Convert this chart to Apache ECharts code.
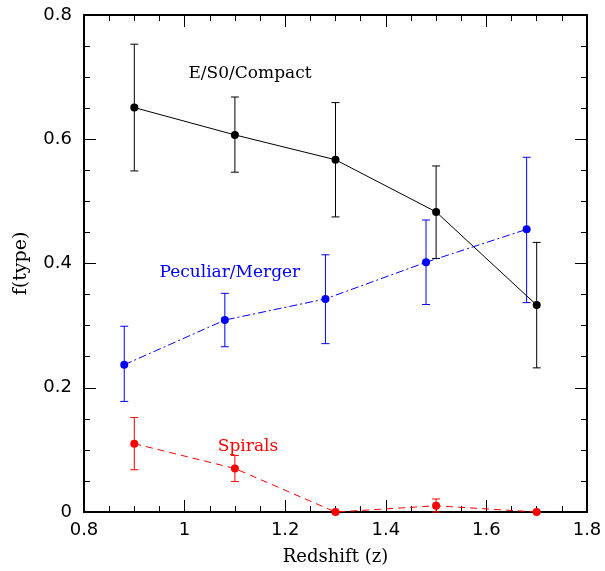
<!DOCTYPE html>
<html><head><meta charset="utf-8">
<script src="https://cdn.jsdelivr.net/npm/echarts@6/dist/echarts.min.js"></script>
<style>html,body{margin:0;padding:0;background:#fff}#c{width:605px;height:571px}</style>
</head><body><div id="c"></div>
<script>
// E/S0/Compact (black)
const esZ = [0.9, 1.1, 1.3, 1.5, 1.7];
const esF = [0.651, 0.607, 0.567, 0.483, 0.333];
const esHi = [0.753, 0.668, 0.659, 0.557, 0.434];
const esLo = [0.549, 0.547, 0.475, 0.408, 0.232];
// Peculiar/Merger (blue)
const pmZ = [0.88, 1.08, 1.28, 1.48, 1.68];
const pmF = [0.237, 0.309, 0.343, 0.402, 0.455];
const pmHi = [0.299, 0.352, 0.414, 0.470, 0.571];
const pmLo = [0.178, 0.266, 0.271, 0.334, 0.337];
// Spirals (red)
const spZ = [0.9, 1.1, 1.3, 1.5, 1.7];
const spF = [0.110, 0.070, 0.0, 0.010, 0.0];
const spHi = [0.152, 0.091, 0.0, 0.021, 0.0];
const spLo = [0.068, 0.049, 0.0, 0.0, 0.0];

const xTicks = [0.8, 1, 1.2, 1.4, 1.6, 1.8];
const yTicks = [0, 0.2, 0.4, 0.6, 0.8];

const serif = 'DejaVu Serif';
const sans = 'DejaVu Sans';

function pts(z, f) { return z.map((v, i) => [v, f[i]]); }
function errs(z, lo, hi) { return z.map((v, i) => [v, lo[i], hi[i]]); }

function errSeries(z, lo, hi, color) {
  return {
    type: 'custom',
    data: errs(z, lo, hi),
    z: 3,
    silent: true,
    renderItem: function (params, api) {
      const x = api.value(0);
      const a = api.coord([x, api.value(1)]);
      const b = api.coord([x, api.value(2)]);
      if (Math.abs(a[1] - b[1]) < 0.5) return null;
      const w = 4;
      const st = { stroke: color, lineWidth: 1 };
      return {
        type: 'group',
        children: [
          { type: 'line', shape: { x1: a[0], y1: a[1], x2: b[0], y2: b[1] }, style: st },
          { type: 'line', shape: { x1: a[0] - w, y1: a[1], x2: a[0] + w, y2: a[1] }, style: st },
          { type: 'line', shape: { x1: b[0] - w, y1: b[1], x2: b[0] + w, y2: b[1] }, style: st }
        ]
      };
    }
  };
}

function lineSeries(z, f, color, dash, label, lx, ly) {
  return {
    type: 'line',
    data: pts(z, f),
    symbol: 'circle',
    symbolSize: 8,
    showSymbol: true,
    z: 4,
    itemStyle: { color: color },
    lineStyle: { color: color, width: 1, type: dash },
    markPoint: {
      symbol: 'circle', symbolSize: 0, silent: true,
      data: [{ coord: [lx, ly], label: { show: true, position: 'inside', formatter: label, color: color, fontFamily: serif, fontSize: 17 } }]
    }
  };
}

const chart = echarts.init(document.getElementById('c'), null, { renderer: 'canvas' });
const axisCommon = {
  type: 'value',
  axisLine: { show: true, onZero: false, lineStyle: { color: '#000', width: 2 } },
  axisTick: { show: true, inside: true, length: 12, lineStyle: { color: '#000', width: 1 } },
  minorTick: { show: true, splitNumber: 4, length: 6, lineStyle: { color: '#000', width: 1 } },
  splitLine: { show: false }
};
chart.setOption({
  animation: false,
  backgroundColor: '#fff',
  grid: { left: 84, right: 18, top: 15, bottom: 52 },
  xAxis: [
    Object.assign({}, axisCommon, {
      min: 0.8, max: 1.8, interval: 0.2, position: 'bottom',
      name: 'Redshift (z)', nameLocation: 'middle', nameGap: 36,
      nameTextStyle: { fontFamily: serif, fontSize: 18, color: '#000' },
      axisLabel: { show: true, margin: 9, fontFamily: sans, fontSize: 18, color: '#000',
        formatter: v => { const t = xTicks.find(k => Math.abs(k - v) < 1e-6); return t === undefined ? '' : String(t); } }
    }),
    Object.assign({}, axisCommon, { min: 0.8, max: 1.8, interval: 0.2, position: 'top', axisLabel: { show: false } })
  ],
  yAxis: [
    Object.assign({}, axisCommon, {
      min: 0, max: 0.8, interval: 0.2, position: 'left',
      name: 'f(type)', nameLocation: 'middle', nameGap: 53,
      nameTextStyle: { fontFamily: serif, fontSize: 19, color: '#000' },
      axisLabel: { show: true, margin: 12, fontFamily: sans, fontSize: 18, color: '#000',
        formatter: v => { const t = yTicks.find(k => Math.abs(k - v) < 1e-6); return t === undefined ? '' : String(t); } }
    }),
    Object.assign({}, axisCommon, { min: 0, max: 0.8, interval: 0.2, position: 'right', axisLabel: { show: false } })
  ],
  series: [
    errSeries(esZ, esLo, esHi, '#000'),
    lineSeries(esZ, esF, '#000', 'solid', 'E/S0/Compact', 1.13, 0.706),
    errSeries(pmZ, pmLo, pmHi, '#0000ff'),
    lineSeries(pmZ, pmF, '#0000ff', [8, 3, 2, 3], 'Peculiar/Merger', 1.09, 0.386),
    errSeries(spZ, spLo, spHi, '#ff0000'),
    lineSeries(spZ, spF, '#ff0000', [7, 5], 'Spirals', 1.126, 0.105)
  ]
});
</script></body></html>
